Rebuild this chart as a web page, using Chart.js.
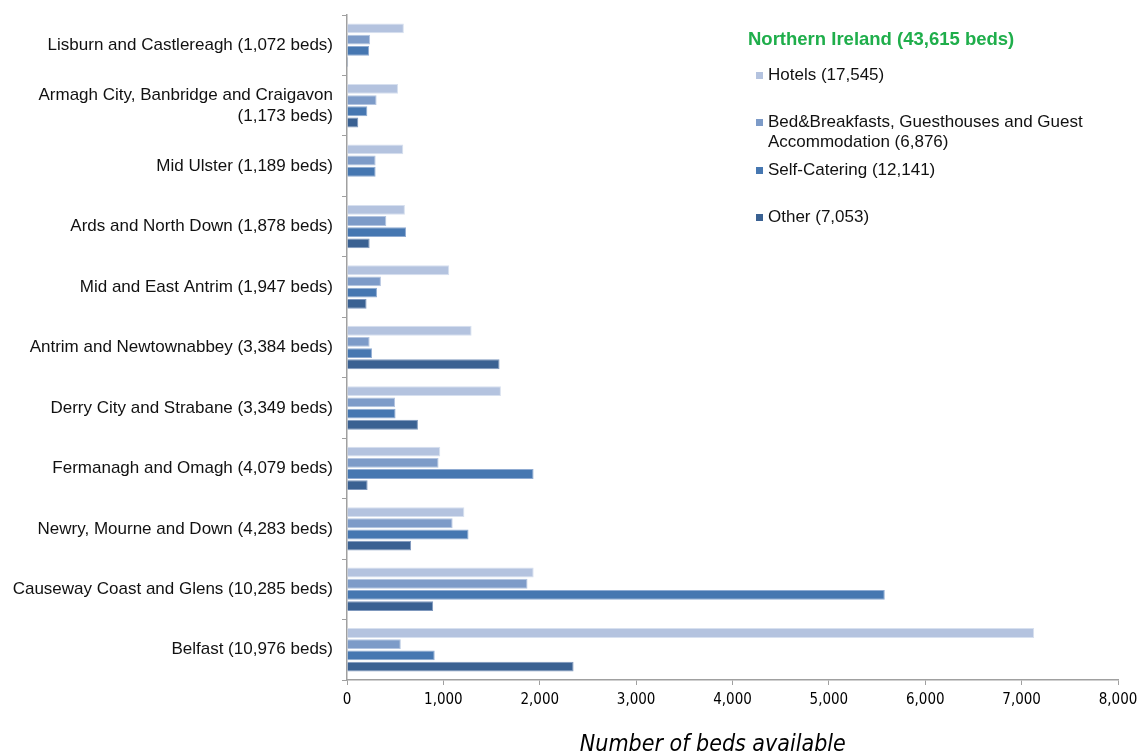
<!DOCTYPE html>
<html>
<head>
<meta charset="utf-8">
<script src="https://cdn.jsdelivr.net/npm/chart.js@4.4.1/dist/chart.umd.min.js"></script>
<style>
  html, body { margin: 0; padding: 0; background: #fff; }
  #wrap { position: relative; width: 1140px; height: 756px; }
  #legend { position: absolute; left: 748px; top: 28px; font-family: "Liberation Sans", Arial, sans-serif; color: #111; }
  #legend .ttl { color: #1fae4b; font-weight: bold; font-size: 18.5px; line-height: 22px; margin-bottom: 15px; }
  #legend .item { position: relative; padding-left: 20px; font-size: 17px; line-height: 20px; }
  #legend .item span.sw { position: absolute; left: 8px; top: 7px; width: 7px; height: 7px; }
</style>
</head>
<body>
<div id="wrap">
  <canvas id="bedsChart" width="1140" height="756"></canvas>
  <div id="legend"></div>
</div>
<script>

// Categories (district council areas), top to bottom.
var areas = [
	'Lisburn and Castlereagh (1,072 beds)',
	['Armagh City, Banbridge and Craigavon', '(1,173 beds)'],
	'Mid Ulster (1,189 beds)',
	'Ards and North Down (1,878 beds)',
	'Mid and East Antrim (1,947 beds)',
	'Antrim and Newtownabbey (3,384 beds)',
	'Derry City and Strabane (3,349 beds)',
	'Fermanagh and Omagh (4,079 beds)',
	'Newry, Mourne and Down (4,283 beds)',
	'Causeway Coast and Glens (10,285 beds)',
	'Belfast (10,976 beds)'
];

// Series values.
var hotels       = [590, 529, 584, 601, 1061, 1293, 1597, 968, 1218, 1937, 7130];
var bedBreakfast = [240, 307, 297, 408, 352, 235, 498, 950, 1096, 1873, 558];
var selfCatering = [230, 211, 297, 612, 311, 259, 504, 1936, 1261, 5580, 910];
var other        = [12, 117, 0, 235, 203, 1583, 736, 214, 665, 894, 2351];

// Legend texts.
var seriesNames = [
	['Hotels (17,545)'],
	['Bed&Breakfasts, Guesthouses and Guest', 'Accommodation (6,876)'],
	['Self-Catering (12,141)'],
	['Other (7,053)']
];
var legendTitle = 'Northern Ireland (43,615 beds)';

// X axis ticks and title.
var xTicks = [0, 1000, 2000, 3000, 4000, 5000, 6000, 7000, 8000];
var xTitle = 'Number of beds available';

var colours = ['#b4c3df', '#7d9bc8', '#4677b1', '#3a6192'];
var edges   = ['#d7e0ef', '#b3c4e0', '#8fabd2', '#7f98bd'];

var seriesData = [hotels, bedBreakfast, selfCatering, other];

/*****/

var datasets = [];
for (let i = 0; i < seriesData.length; i++) {
	datasets.push({
		label: seriesNames[i].join(' '),
		data: seriesData[i],
		backgroundColor: colours[i],
		borderColor: edges[i],
		borderWidth: 1,
		categoryPercentage: 0.74,
		barPercentage: 0.88
	});
}

// Build the legend from the series arrays.
var legend = document.getElementById('legend');
var t = document.createElement('div');
t.className = 'ttl';
t.textContent = legendTitle;
legend.appendChild(t);
var gaps = [0, 27, 8, 27];
for (let i = 0; i < seriesNames.length; i++) {
	let it = document.createElement('div');
	it.className = 'item';
	it.style.marginTop = gaps[i] + 'px';
	let sw = document.createElement('span');
	sw.className = 'sw';
	sw.style.background = colours[i];
	it.appendChild(sw);
	it.appendChild(document.createTextNode(seriesNames[i][0]));
	for (let k = 1; k < seriesNames[i].length; k++) {
		it.appendChild(document.createElement('br'));
		it.appendChild(document.createTextNode(seriesNames[i][k]));
	}
	legend.appendChild(it);
}

var ctx = document.getElementById('bedsChart').getContext('2d');

new Chart(ctx, {
	type: 'bar',
	data: { labels: areas, datasets: datasets },
	options: {
		indexAxis: 'y',
		responsive: false,
		animation: false,
		layout: { padding: { top: 15, right: 22, left: 0, bottom: 0 } },
		plugins: {
			legend: { display: false },
			tooltip: { enabled: false }
		},
		scales: {
			x: {
				min: xTicks[0],
				max: xTicks[xTicks.length - 1],
				afterBuildTicks: function(scale) {
					scale.ticks = xTicks.map(function(v) { return { value: v }; });
				},
				afterFit: function(scale) {
					scale.height = 76;
					scale.paddingLeft = 0;
					scale.paddingRight = 0;
				},
				border: { color: '#a0a0a0', width: 1.5 },
				grid: { drawOnChartArea: false, drawTicks: true, tickLength: 5, color: '#a0a0a0' },
				ticks: {
					color: '#000',
					padding: 6,
					font: { family: '"DejaVu Sans Condensed", "DejaVu Sans", sans-serif', size: 15 },
					callback: function(v) { return v.toLocaleString('en-GB'); }
				},
				title: {
					display: true,
					// trailing spaces pull the centred title a little to the left, as in the original
					text: xTitle + '      ',
					color: '#000',
					padding: { top: 10, bottom: -3 },
					font: { family: '"DejaVu Sans Condensed", "DejaVu Sans", sans-serif', size: 23, style: 'italic' }
				}
			},
			y: {
				afterFit: function(scale) {
					scale.width = 347;
					scale.paddingTop = 0;
					scale.paddingBottom = 0;
				},
				border: { color: '#a0a0a0', width: 1.5 },
				grid: { drawOnChartArea: false, drawTicks: true, tickLength: 5, color: '#a0a0a0', offset: true },
				ticks: {
					color: '#111',
					padding: 9,
					autoSkip: false,
					font: { family: '"Liberation Sans", Arial, sans-serif', size: 17, lineHeight: 1.2 }
				}
			}
		}
	}
});
</script>
</body>
</html>
